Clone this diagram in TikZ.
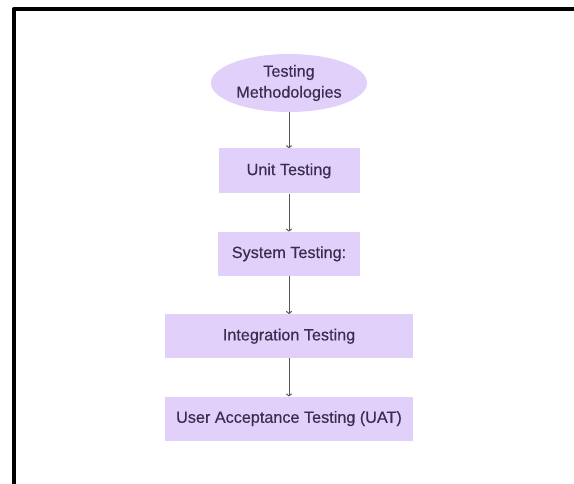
\documentclass[tikz,border=0pt]{standalone}
\usepackage{fontspec}
\setmainfont{Liberation Sans}
\newfontfamily\stagefont{Liberation Sans}[FakeBold=0.35]
\usepackage{tikz}
\usetikzlibrary{shapes.geometric, arrows.meta, positioning}
\usepackage{xcolor}
\definecolor{stagefill}{RGB}{224,208,250}
\definecolor{stagetext}{RGB}{58,46,78}
\definecolor{linkgray}{RGB}{85,85,85}

\begin{document}
\begin{tikzpicture}[
    x=1pt, y=-1pt,
    node distance=38pt,
    box/.style={rectangle, fill=stagefill, text=stagetext, minimum height=44pt, inner sep=0pt, align=center, font=\stagefont\fontsize{16.2}{21}\selectfont},
    root/.style={ellipse, fill=stagefill, text=stagetext, minimum width=156pt, minimum height=58pt, inner sep=0pt, align=center, font=\stagefont\fontsize{16.2}{21}\selectfont},
    arrow/.style={-{To[length=3pt, width=6pt]}, draw=linkgray, line width=1pt}
]
\useasboundingbox (0,0) rectangle (574,483);
% frame (only top and left edges show)
\draw[line width=4.5pt, line join=round] (14,490) -- (14,9) -- (580,9);

\node[root] (methods) at (289,83) {Testing\\Methodologies};
\node[box, minimum width=141pt, minimum height=45pt, below=36pt of methods] (unit) {Unit Testing};
\node[box, minimum width=142pt, below=of unit] (system) {System Testing:};
\node[box, minimum width=248pt, below=of system] (integration) {Integration Testing};
\node[box, minimum width=248pt, below=of integration] (uat) {User Acceptance Testing (UAT)};

\draw[arrow] (methods) -- (unit);
\draw[arrow] (unit) -- (system);
\draw[arrow] (system) -- (integration);
\draw[arrow] (integration) -- (uat);
\end{tikzpicture}
\end{document}
